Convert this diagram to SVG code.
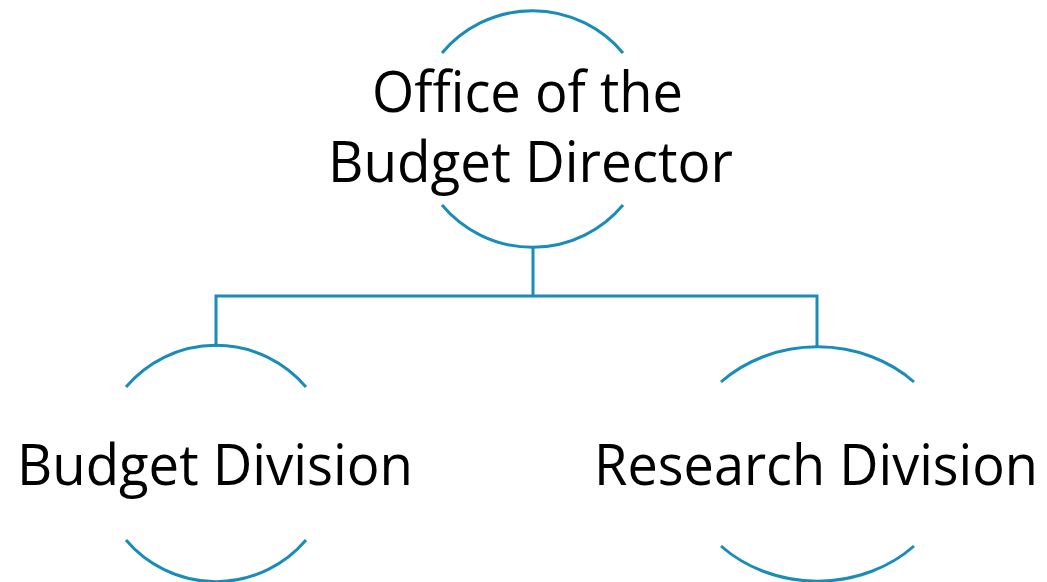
<svg xmlns="http://www.w3.org/2000/svg" width="1047" height="582" viewBox="0 0 1047 582">
<style>
.arc{fill:none;stroke:#1a8cba;stroke-width:3}
.conn{fill:none;stroke:#1a8cba;stroke-width:3;stroke-linejoin:miter}
.lbl{font-family:"Open Sans","Liberation Sans",sans-serif;font-size:56px;fill:#000}
</style>
<rect width="1047" height="582" fill="#fff"/>
<g id="connectors">
<path class="conn" d="M533,247 V296 M216,347 V296 H817 V347"/>
</g>
<g id="node-director">
<path class="arc" d="M442,53 A118,118 0 0 1 623,53"/>
<path class="arc" d="M442,205 A118,118 0 0 0 623,205"/>
<text class="lbl" x="372" y="112" textLength="311" lengthAdjust="spacingAndGlyphs">Office of the</text>
<text class="lbl" x="328" y="182" textLength="405" lengthAdjust="spacingAndGlyphs">Budget Director</text>
</g>
<g id="node-budget">
<path class="arc" d="M126,387 A118,118 0 0 1 306,387"/>
<path class="arc" d="M126,540 A118,118 0 0 0 306,540"/>
<text class="lbl" x="17" y="485" textLength="396" lengthAdjust="spacingAndGlyphs">Budget Division</text>
</g>
<g id="node-research">
<path class="arc" d="M721,382 A135,117 0 0 1 914,382"/>
<path class="arc" d="M721,546 A135,117 0 0 0 914,546"/>
<text class="lbl" x="594" y="485" textLength="444" lengthAdjust="spacingAndGlyphs">Research Division</text>
</g>
</svg>
